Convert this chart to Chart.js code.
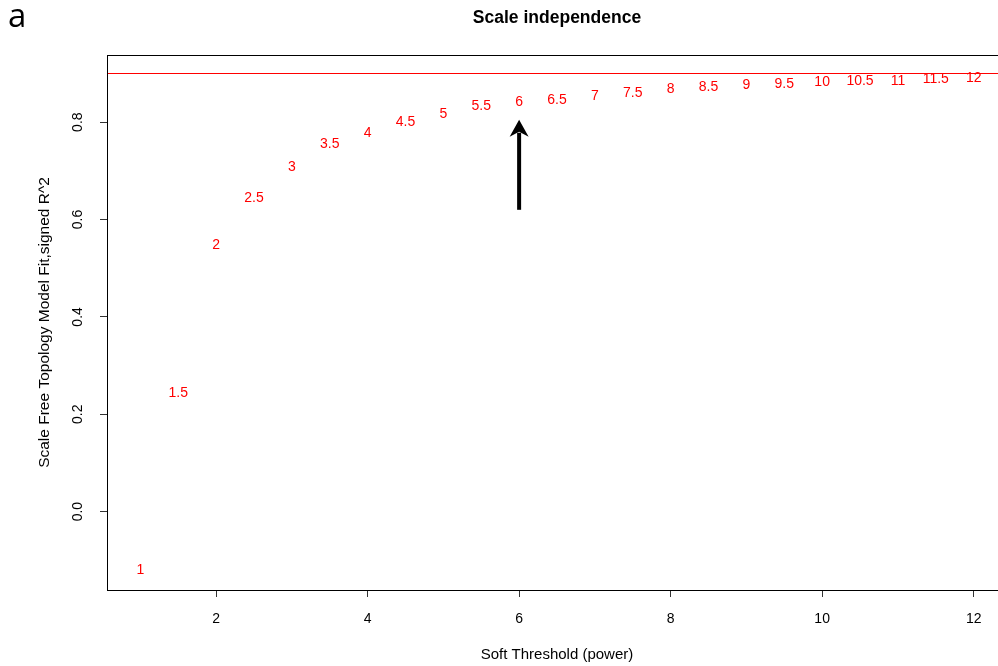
<!DOCTYPE html>
<html>
<head>
<meta charset="utf-8">
<script src="https://cdn.jsdelivr.net/npm/chart.js@4.4.1/dist/chart.umd.min.js"></script>
<style>
  html, body { margin: 0; padding: 0; background: #fff; overflow: hidden; }
  #wrap { width: 998px; height: 666px; overflow: hidden; }
  #box { width: 1010px; height: 666px; }
</style>
</head>
<body>
<div id="wrap"><div id="box"><canvas id="sft"></canvas></div></div>
<script>
// soft-thresholding powers and their signed R^2 fit
const powers = [1, 1.5, 2, 2.5, 3, 3.5, 4, 4.5, 5, 5.5, 6, 6.5, 7, 7.5, 8, 8.5, 9, 9.5, 10, 10.5, 11, 11.5, 12];
const fitR2 = [-0.120, 0.243, 0.548, 0.643, 0.707, 0.754, 0.778, 0.800, 0.817, 0.832, 0.841,
               0.846, 0.853, 0.859, 0.867, 0.871, 0.876, 0.878, 0.882, 0.884, 0.884, 0.889, 0.890];
const xTicks = [2, 4, 6, 8, 10, 12];
const yTicks = [0.0, 0.2, 0.4, 0.6, 0.8];
const cutoff = 0.9;
// arrow pointing at the chosen power
const arrowPower = 6;
const arrowFrom = 0.62;
const arrowTo = 0.805;

const FONT = '"Liberation Sans", Arial, Helvetica, sans-serif';

// 📌 box, cutoff line, arrow, red labels, panel letter
const decorations = {
  id: 'decorations',
  afterDatasetsDraw(chart) {
    const { ctx, chartArea: a, scales: { x, y } } = chart;
    ctx.save();

    // red cutoff line
    const yc = Math.round(y.getPixelForValue(cutoff)) + 0.5;
    ctx.strokeStyle = '#ff0000';
    ctx.lineWidth = 1;
    ctx.beginPath();
    ctx.moveTo(a.left, yc);
    ctx.lineTo(a.right, yc);
    ctx.stroke();

    // point labels
    const meta = chart.getDatasetMeta(0);
    ctx.fillStyle = '#ff0000';
    ctx.font = '14px ' + FONT;
    ctx.textAlign = 'center';
    ctx.textBaseline = 'middle';
    meta.data.forEach((pt, i) => {
      ctx.fillText(String(powers[i]), pt.x, pt.y);
    });

    // arrow
    const ax = x.getPixelForValue(arrowPower);
    const y0 = y.getPixelForValue(arrowFrom);
    const y1 = y.getPixelForValue(arrowTo);
    const headLen = 17;
    ctx.strokeStyle = '#000';
    ctx.fillStyle = '#000';
    ctx.lineWidth = 4;
    ctx.beginPath();
    ctx.moveTo(ax, y0);
    ctx.lineTo(ax, y1 + headLen - 4);
    ctx.stroke();
    ctx.beginPath();
    ctx.moveTo(ax, y1);
    ctx.lineTo(ax - 9.5, y1 + headLen);
    ctx.lineTo(ax, y1 + headLen - 5);
    ctx.lineTo(ax + 9.5, y1 + headLen);
    ctx.closePath();
    ctx.fill();

    // plot box
    ctx.strokeStyle = '#000';
    ctx.lineWidth = 1;
    ctx.strokeRect(a.left + 0.5, a.top + 0.5, a.right - a.left, a.bottom - a.top);

    // panel letter
    ctx.fillStyle = '#000';
    ctx.font = '33px "Open Sans", "DejaVu Sans", sans-serif';
    ctx.textAlign = 'left';
    ctx.textBaseline = 'alphabetic';
    ctx.fillText('a', 8, 27);

    ctx.restore();
  }
};

new Chart(document.getElementById('sft'), {
  type: 'scatter',
  data: {
    datasets: [{
      label: 'Scale independence',
      data: powers.map((p, i) => ({ x: p, y: fitR2[i] })),
      pointRadius: 0,
      pointHoverRadius: 0,
      showLine: false
    }]
  },
  options: {
    responsive: true,
    maintainAspectRatio: false,
    animation: false,
    events: [],
    layout: { padding: { left: 0, right: 3, top: 0, bottom: 0 } },
    plugins: {
      legend: { display: false },
      tooltip: { enabled: false },
      title: {
        display: true,
        text: 'Scale independence',
        fullSize: false,
        color: '#000',
        font: { family: FONT, size: 17.5, weight: 'bold' },
        padding: { top: 7.5, bottom: 26.5 }
      }
    },
    scales: {
      x: {
        type: 'linear',
        min: 0.56,
        max: 12.44,
        afterBuildTicks: (s) => { s.ticks = xTicks.map(v => ({ value: v })); },
        afterFit: (s) => { s.height = 76; },
        grid: { drawOnChartArea: false, drawTicks: true, tickLength: 7, tickColor: '#333', lineWidth: 1 },
        border: { display: false },
        ticks: { color: '#000', font: { family: FONT, size: 14 }, padding: 14, maxRotation: 0 },
        title: {
          display: true,
          text: 'Soft Threshold (power)',
          color: '#000',
          font: { family: FONT, size: 15 },
          padding: { top: 0, bottom: 2 }
        }
      },
      y: {
        type: 'linear',
        min: -0.161,
        max: 0.938,
        afterBuildTicks: (s) => { s.ticks = yTicks.map(v => ({ value: v })); },
        afterFit: (s) => { s.width = 107; },
        grid: { drawOnChartArea: false, drawTicks: true, tickLength: 7, tickColor: '#333', lineWidth: 1 },
        border: { display: false },
        ticks: {
          color: '#000',
          font: { family: FONT, size: 14 },
          minRotation: 90,
          maxRotation: 90,
          crossAlign: 'center',
          padding: 12,
          callback: (v) => v.toFixed(1)
        },
        title: {
          display: true,
          text: 'Scale Free Topology Model Fit,signed R^2',
          color: '#000',
          font: { family: FONT, size: 15.5 },
          padding: { top: 35, bottom: 0 }
        }
      }
    }
  },
  plugins: [decorations]
});
</script>
</body>
</html>
